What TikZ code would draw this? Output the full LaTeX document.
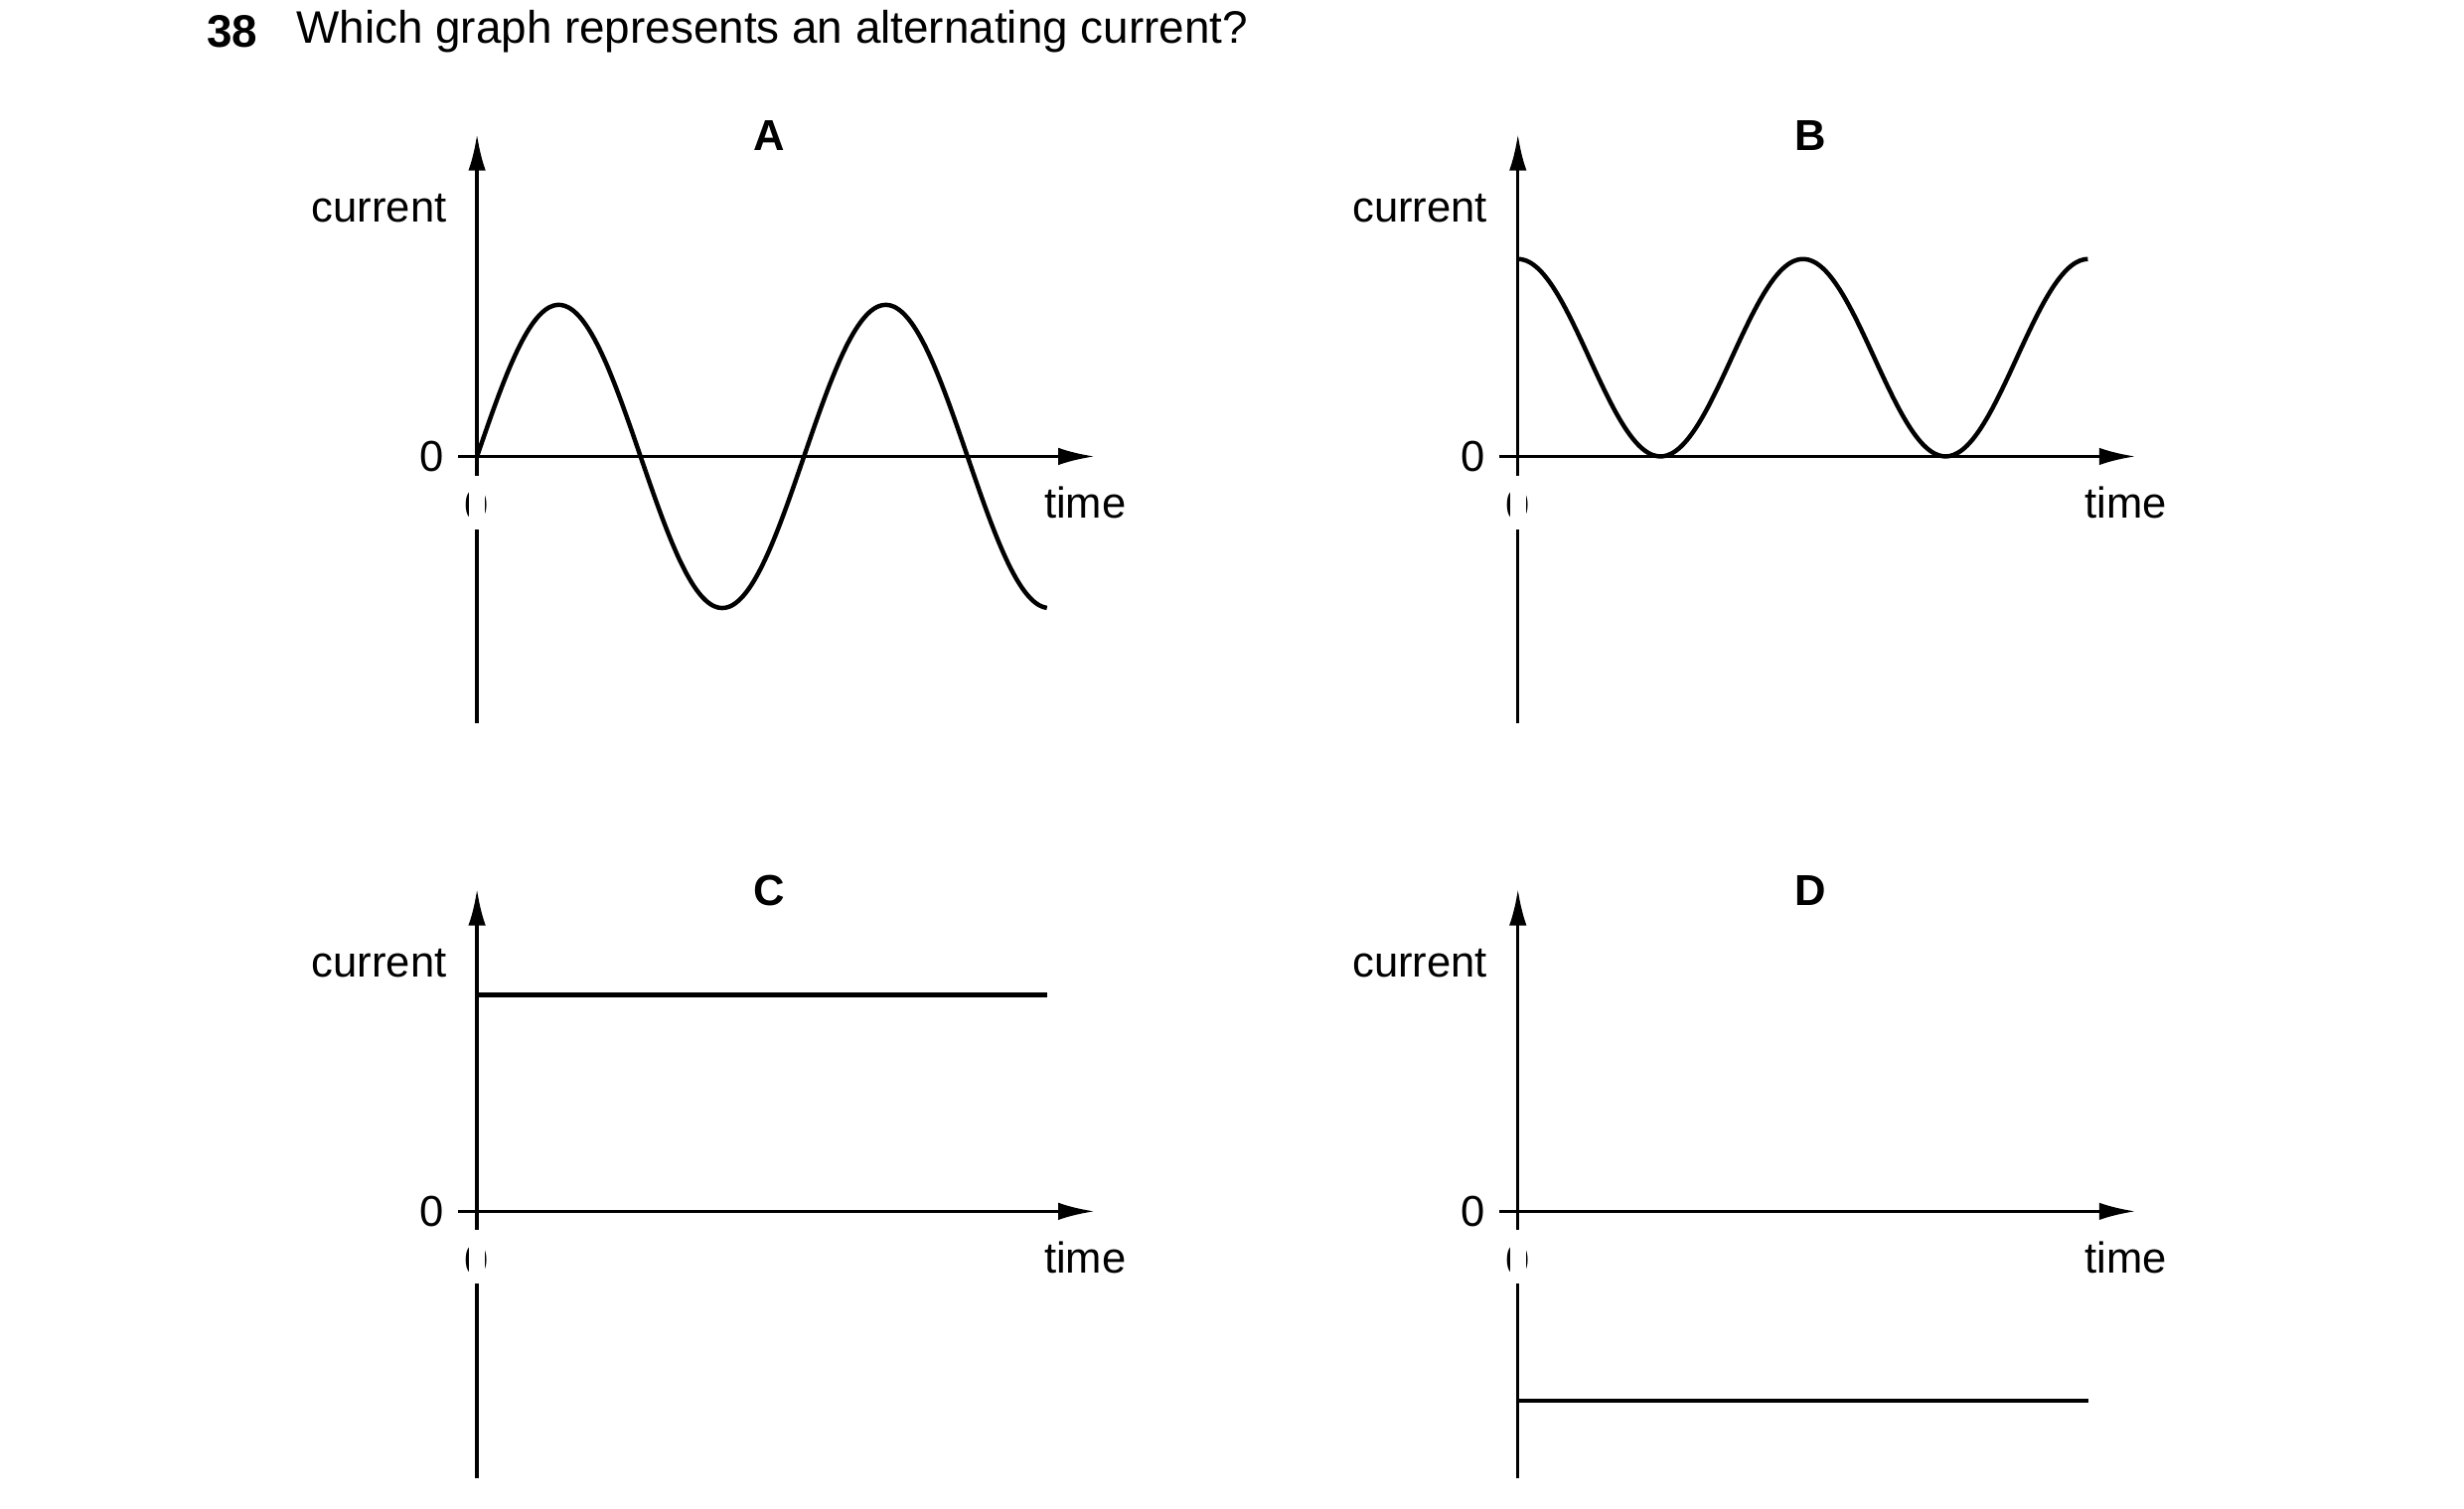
\documentclass[tikz,border=0pt]{standalone}
\usepackage{fontspec}
\setmainfont{Liberation Sans}
\usetikzlibrary{arrows.meta}
\tikzset{
  ax/.style={line width=0.6pt,-{Latex[length=2.3mm,width=1.1mm]}},
  axp/.style={line width=0.6pt},
  crv/.style={line width=0.8pt},
  lbl/.style={font=\fontsize{7.8}{9}\selectfont,inner sep=0pt},
  ttl/.style={font=\fontsize{7.8}{9}\selectfont\bfseries,inner sep=0pt}
}
\newcommand\mygraph[3]{%
  \begin{scope}[shift={(#1,#2)}]
    \coordinate (#3o) at (0,0);
    \coordinate (#3top) at (0,2.04);
    \coordinate (#3bot) at (0,-1.69);
    \coordinate (#3l) at (-0.12,0);
    \coordinate (#3r) at (3.91,0);
    \coordinate (#3g1) at (0,-0.47);
    \draw[ax] (#3g1) -- (#3top);
    \draw[axp] (#3bot) -- (0,-0.12) ;
    \draw[ax] (#3l) -- (#3r);
    \node[lbl,anchor=east] (#3zl) at (-0.2,0) {0};
    \node[lbl] (#3zb) at (0,-0.31) {0};
    \node[lbl] (#3time) at (3.85,-0.29) {time};
    \node[lbl] (#3cur) at (-0.62,1.57) {current};
    \node[ttl] (#3name) at (1.85,2.03) {#3};
    \fill[white] (-0.05,-0.12) rectangle (0.05,-0.46);
  \end{scope}}
\begin{document}
\begin{tikzpicture}[x=1cm,y=1cm]
\useasboundingbox (0,0) rectangle (15.6,-9.55);
\node[font=\fontsize{8.2}{10}\selectfont\bfseries,inner sep=0pt] (num) at (1.47,-0.2) {38};
\node[font=\fontsize{8.2}{10}\selectfont,inner sep=0pt,anchor=west] (q) at (1.87,-0.2) {Which graph represents an alternating current?};
\mygraph{3.02}{-2.89}{A}
\mygraph{9.61}{-2.89}{B}
\mygraph{3.02}{-7.67}{C}
\mygraph{9.61}{-7.67}{D}
\draw[crv,domain=0:3.61,samples=150,smooth] plot ({3.02+\x},{-2.89+0.96*sin(\x/2.07*360)});
\draw[crv,domain=0:3.61,samples=150,smooth] plot ({9.61+\x},{-2.89+0.625+0.625*cos(\x/1.805*360)});
\draw[crv] (3.02,-6.30) -- (6.63,-6.30);
\draw[crv] (9.61,-8.87) -- (13.22,-8.87);
\end{tikzpicture}
\end{document}
